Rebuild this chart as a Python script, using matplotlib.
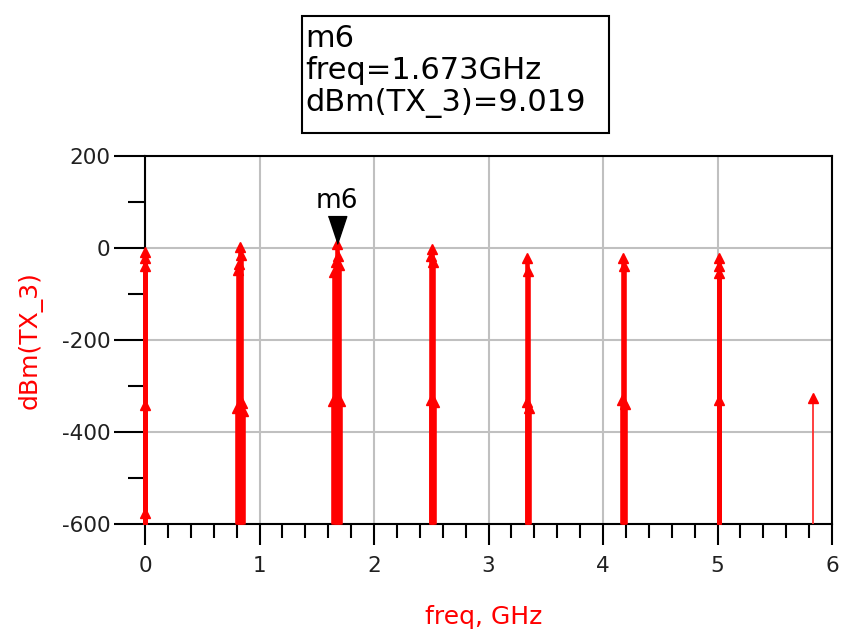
import matplotlib
matplotlib.use("Agg")
import matplotlib.pyplot as plt
from matplotlib.patches import Rectangle
from matplotlib.transforms import offset_copy
from matplotlib.ticker import MultipleLocator

plt.rcParams["axes.unicode_minus"] = False

# ---- data ----
freq_ghz = [0.000, 0.000, 0.000, 0.000, 0.000,
            0.806, 0.814, 0.822, 0.830, 0.838, 0.846, 0.854,
            1.646, 1.655, 1.664, 1.673, 1.682, 1.691, 1.700,
            2.494, 2.502, 2.510, 2.518, 2.526,
            3.332, 3.338, 3.344, 3.350,
            4.168, 4.176, 4.184, 4.192,
            5.010, 5.010, 5.010, 5.010]
dbm = [-9, -22, -39, -341, -576,
       -348, -48, -35, 2, -15, -337, -354,
       -333, -52, -30, 9.019, -18, -36, -333,
       -330, -18, -3, -30, -335,
       -335, -22, -50, -348,
       -330, -22, -40, -339,
       -22, -39, -54, -330]
weak_freq_ghz = [5.835]
weak_dbm = [-326]

marker_name = "m6"
marker_freq = 1.673
marker_dbm = 9.019

x_ticks = [0, 1, 2, 3, 4, 5, 6]
y_ticks = [200, 0, -200, -400, -600]
y_floor = -600

RED = "#ff0000"

fig = plt.figure(figsize=(8.41, 6.35), dpi=100)
ax = fig.add_axes([145/841, 1-524/635, 687/841, 368/635])

ax.set_xlim(0, 6)
ax.set_ylim(-600, 200)
ax.set_xticks(x_ticks)
ax.set_yticks(y_ticks)
ax.xaxis.set_minor_locator(MultipleLocator(0.2))
ax.yaxis.set_minor_locator(MultipleLocator(100))
ax.grid(True, which="major", color="#c0c0c0", linewidth=1.5, zorder=0)
ax.set_axisbelow(True)

for s in ax.spines.values():
    s.set_linewidth(1.5)
    s.set_color("black")

ax.tick_params(axis="both", which="major", direction="out", width=1.5,
               labelsize=15.5, colors="black", labelcolor="#202020")
ax.tick_params(axis="both", which="minor", direction="out", width=1.5)
ax.tick_params(axis="x", which="major", length=15, pad=8)
ax.tick_params(axis="x", which="minor", length=10)
ax.tick_params(axis="y", which="major", length=22, pad=3)
ax.tick_params(axis="y", which="minor", length=12)

# stems
ax.vlines(freq_ghz, y_floor, dbm, colors=RED, linewidth=3.3, zorder=3, clip_on=False)
ax.plot(freq_ghz, dbm, linestyle="none", marker="^", color=RED, markersize=7, zorder=4,
        clip_on=False)
ax.vlines(weak_freq_ghz, y_floor, weak_dbm, colors="#ff3030", linewidth=1.3, zorder=3)
ax.plot(weak_freq_ghz, weak_dbm, linestyle="none", marker="^", color=RED, markersize=7, zorder=4)

# marker m6
tri_tr = offset_copy(ax.transData, fig=fig, x=0, y=14, units="dots")
ax.plot([marker_freq], [marker_dbm], transform=tri_tr, marker=[(-1, 1.5), (1, 1.5), (0, -1.5)],
        markersize=20, color="black", linestyle="none", zorder=6, clip_on=False)
ax.annotate(marker_name, xy=(marker_freq, marker_dbm), xytext=(0, 30), textcoords="offset pixels",
            ha="center", va="bottom", fontsize=19, color="black",
            annotation_clip=False)

# labels
ax.set_xlabel("freq, GHz", color=RED, fontsize=18)
ax.set_ylabel("dBm(TX_3)", color=RED, fontsize=18)
ax.xaxis.set_label_coords(0.493, -0.253)
ax.xaxis.label.set_va("center")
ax.yaxis.set_label_coords(-0.167, 0.5)
ax.yaxis.label.set_va("center")

# marker readout box
fig.patches.append(Rectangle((302/841, 1-133/635), 307/841, 117/635, transform=fig.transFigure,
                             fill=False, edgecolor="black", linewidth=1.5))
fig.text(305/841, 1-24/635,
         f"{marker_name}\nfreq={marker_freq:.3f}GHz\ndBm(TX_3)={marker_dbm:.3f}",
         ha="left", va="top", fontsize=22, linespacing=1.13, color="black")

fig.savefig("out.png", dpi=100)
